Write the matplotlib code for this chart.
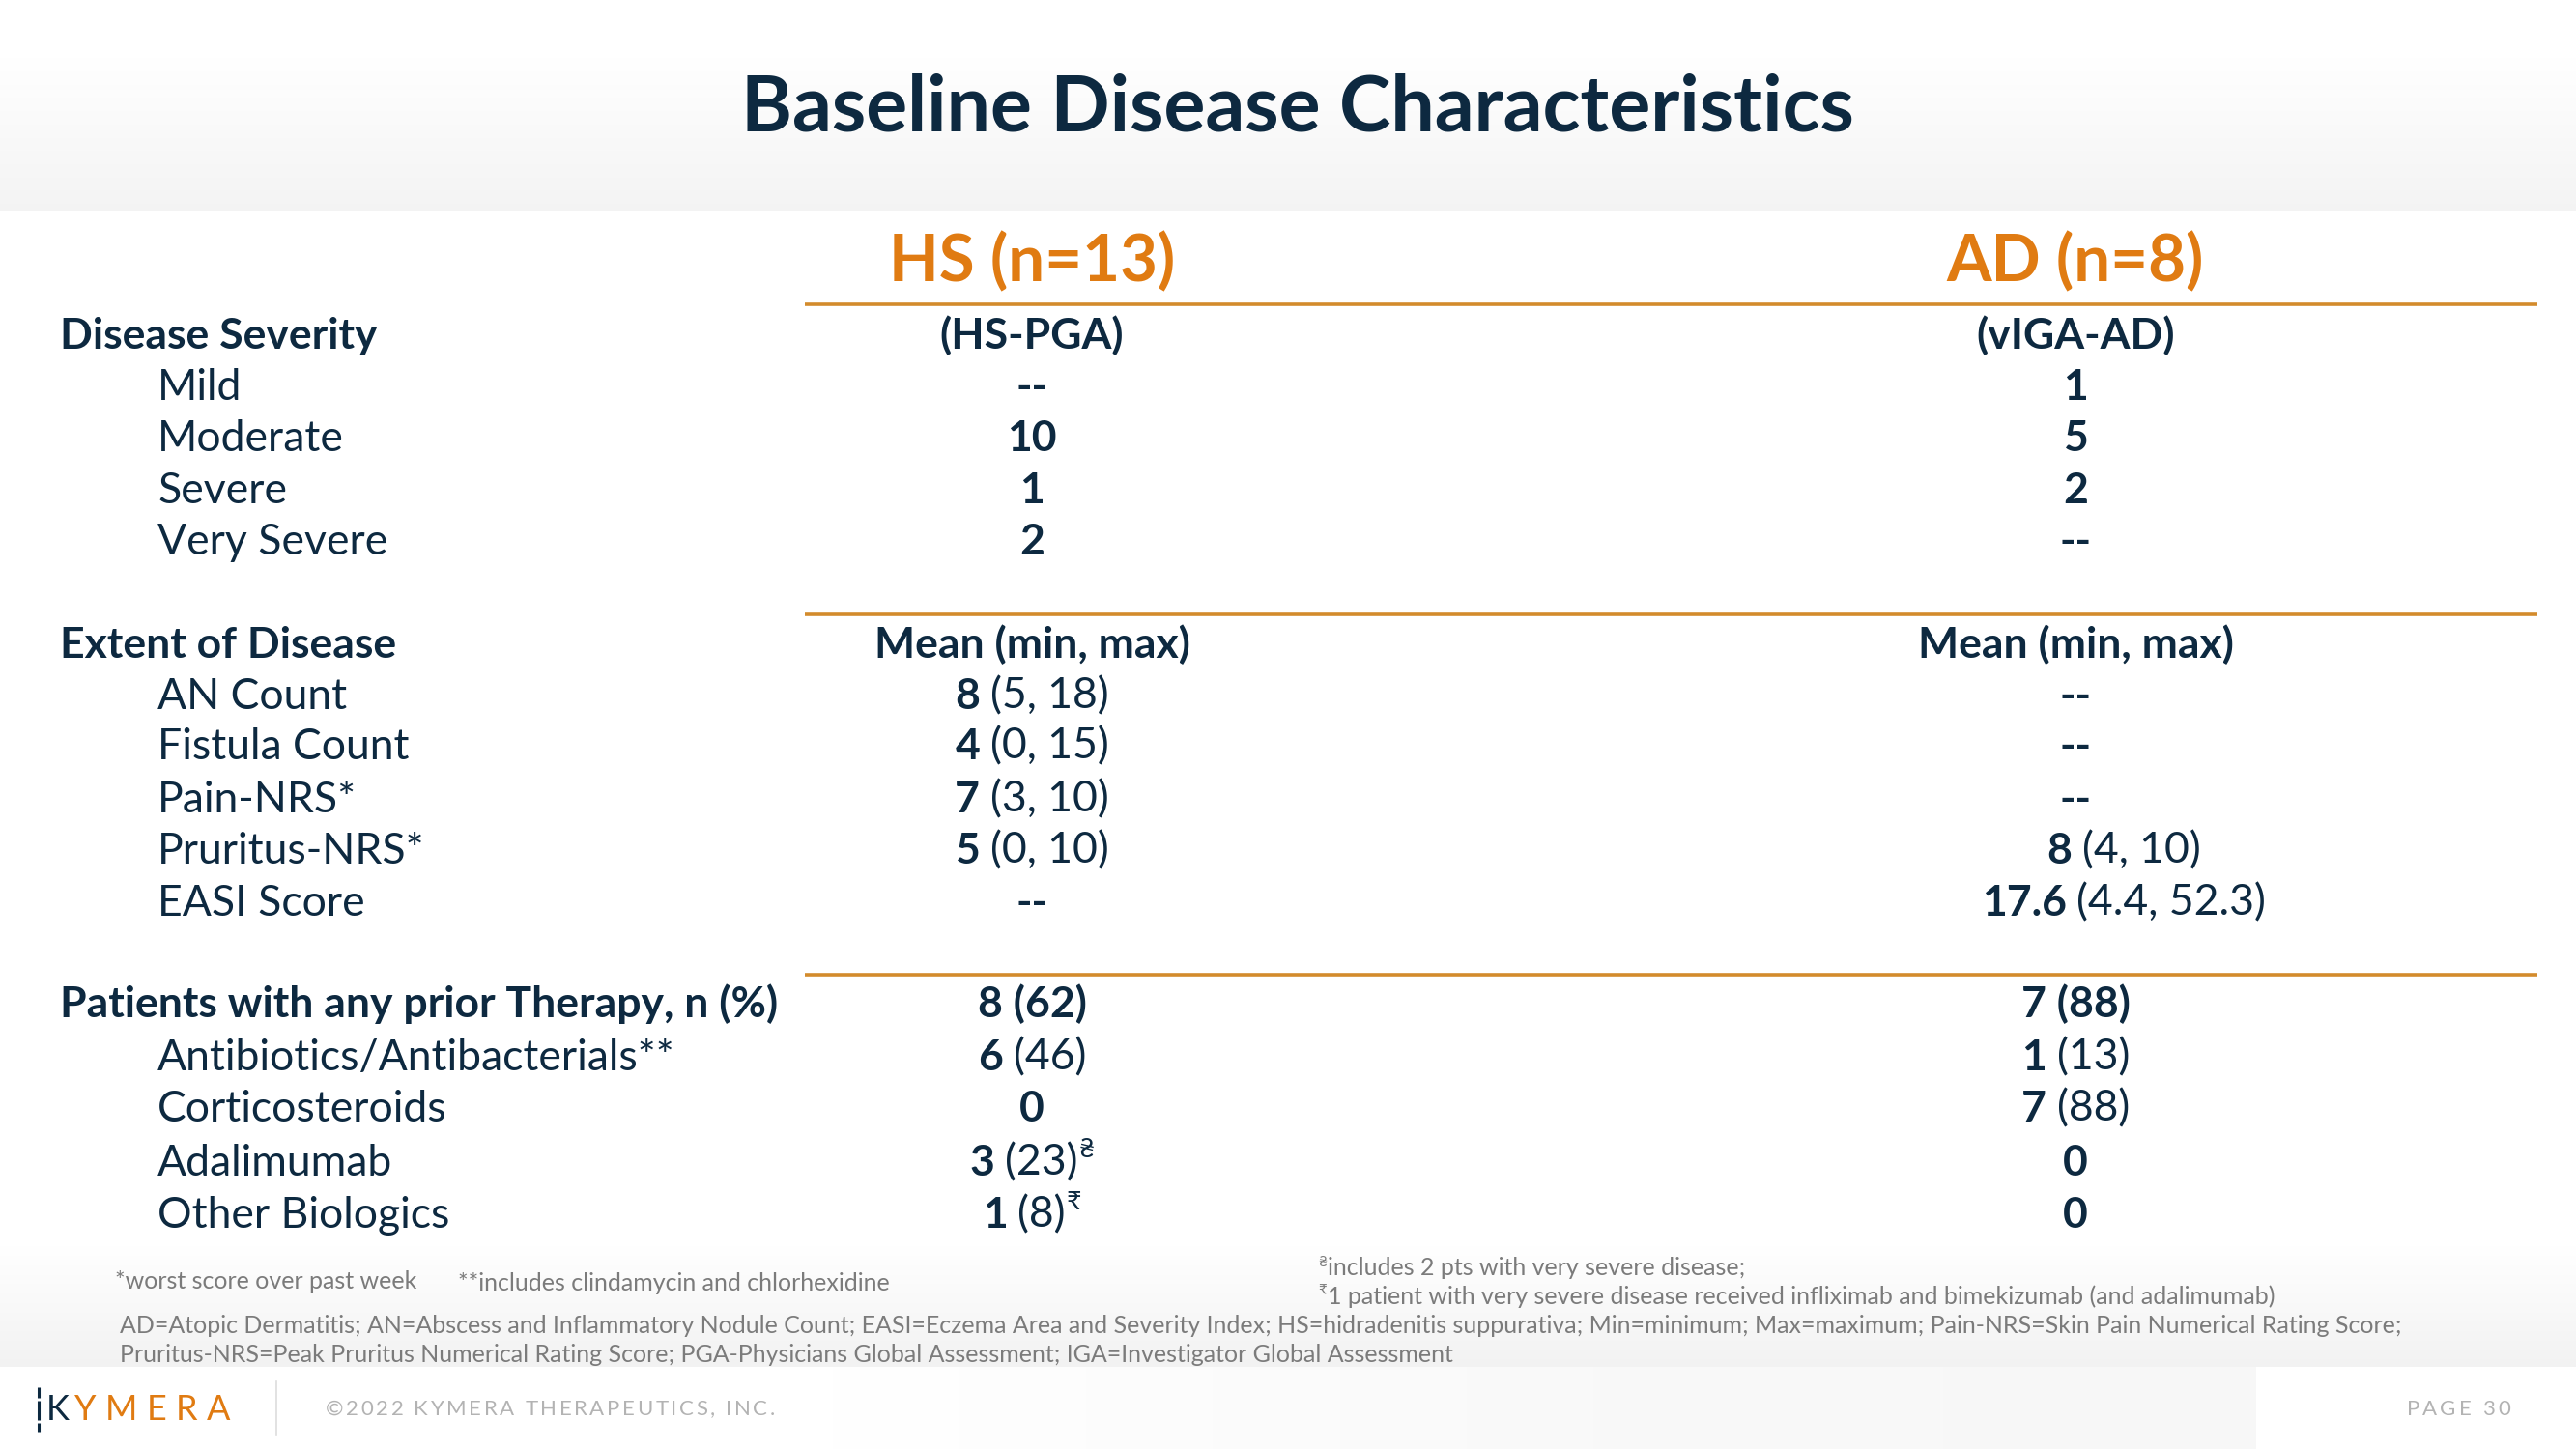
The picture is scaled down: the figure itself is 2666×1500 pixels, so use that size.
import matplotlib
matplotlib.use('Agg')
import matplotlib.pyplot as plt
import numpy as np

# ---------------- data ----------------
title = "Baseline Disease Characteristics"
group_labels = ["HS (n=13)", "AD (n=8)"]
section_titles = ["Disease Severity", "Extent of Disease",
                  "Patients with any prior Therapy, n (%)"]
section_hs = ["(HS-PGA)", "Mean (min, max)", "8 (62)"]
section_ad = ["(vIGA-AD)", "Mean (min, max)", "7 (88)"]

severity_rows = ["Mild", "Moderate", "Severe", "Very Severe"]
severity_hs = ["--", "10", "1", "2"]
severity_ad = ["1", "5", "2", "--"]

extent_rows = ["AN Count", "Fistula Count", "Pain-NRS*", "Pruritus-NRS*", "EASI Score"]
extent_hs_mean = ["8", "4", "7", "5", "--"]
extent_hs_range = ["(5, 18)", "(0, 15)", "(3, 10)", "(0, 10)", ""]
extent_ad_mean = ["--", "--", "--", "8", "17.6"]
extent_ad_range = ["", "", "", "(4, 10)", "(4.4, 52.3)"]

therapy_rows = ["Antibiotics/Antibacterials**", "Corticosteroids", "Adalimumab", "Other Biologics"]
therapy_hs_n = ["6", "0", "3", "1"]
therapy_hs_pct = ["(46)", "", "(23)", "(8)"]
therapy_hs_mark = ["", "", "\u20b4", "\u20b9"]
therapy_ad_n = ["1", "7", "0", "0"]
therapy_ad_pct = ["(13)", "(88)", "", ""]

footnote_a = "*worst score over past week"
footnote_b = "**includes clindamycin and chlorhexidine"
footnote_c = ("\u20b4", "includes 2 pts with very severe disease;")
footnote_d = ("\u20b9", "1 patient with very severe disease received infliximab and bimekizumab (and adalimumab)")
abbrev_1 = ("AD=Atopic Dermatitis; AN=Abscess and Inflammatory Nodule Count; EASI=Eczema Area and Severity Index; "
            "HS=hidradenitis suppurativa; Min=minimum; Max=maximum; Pain-NRS=Skin Pain Numerical Rating Score;")
abbrev_2 = "Pruritus-NRS=Peak Pruritus Numerical Rating Score; PGA-Physicians Global Assessment; IGA=Investigator Global Assessment"
footer_company = "\u00a92022 KYMERA THERAPEUTICS, INC."
footer_page = "PAGE 30"

# ---------------- style ----------------
W, H = 2666, 1500
NAVY = "#0d2940"
ORANGE = "#e07b12"
LINE = "#d38b2c"
GREY = "#7b7b7b"
LIGHT = "#b3b3b3"
FONT = ["Lato", "DejaVu Sans"]
BODY = 32.0
PX = 100 / 72.0

plt.rcParams['font.family'] = FONT
fig = plt.figure(figsize=(W / 100, H / 100), dpi=100)
ax = fig.add_axes([0, 0, 1, 1])
renderer = fig.canvas.get_renderer()


def vgrad(x0, x1, y0, y1, top, bottom, n=200):
    g = np.linspace(top, bottom, n)[:, None, None] * np.ones((1, 2, 3))
    ax.imshow(g, extent=[x0, x1, y1, y0], aspect='auto', zorder=0, interpolation='bilinear')


def hgrad(x0, x1, y0, y1, left, right, n=200):
    g = np.linspace(left, right, n)[None, :, None] * np.ones((2, 1, 3))
    ax.imshow(g, extent=[x0, x1, y1, y0], aspect='auto', zorder=0, interpolation='bilinear')


# background bands
vgrad(0, W, 0, 60, 1.0, 1.0, 2)
vgrad(0, W, 60, 218, 1.0, 0.955)
vgrad(0, W, 1290, 1415, 1.0, 0.95)
hgrad(860, 1700, 1415, H, 1.0, 0.975)
hgrad(1700, 2335, 1415, H, 0.975, 0.97)
ax.set_xlim(0, W)
ax.set_ylim(H, 0)
ax.axis('off')


def width(t):
    return t.get_window_extent(renderer).width


def cap(size):
    return 0.7165 * size * PX


def composite(xc, yc, parts, size=BODY, ha='center'):
    """parts: list of (text, weight, scale, raise_frac)"""
    base = yc + cap(size) / 2
    objs = []
    for s, wgt, sc, rz in parts:
        if not s:
            continue
        t = ax.text(0, base - rz * size * PX, s, fontsize=size * sc, fontweight=wgt,
                    color=NAVY, va='baseline', ha='left', zorder=3)
        objs.append(t)
    gap = 0.24 * size * PX
    widths = [width(t) for t in objs]
    gaps = []
    for i in range(len(objs) - 1):
        gaps.append(gap if objs[i + 1].get_text().startswith('(') else 1.0)
    total = sum(widths) + sum(gaps)
    x = xc - total / 2 if ha == 'center' else xc
    for i, t in enumerate(objs):
        t.set_x(x)
        x += widths[i] + (gaps[i] if i < len(gaps) else 0)


def spaced(x, y, s, size, color, track, ha='left', weight='normal'):
    objs = []
    for ch in s:
        objs.append(ax.text(0, y, ch, fontsize=size, color=color, va='center',
                            ha='left', fontweight=weight, zorder=3))
    ws = []
    for t in objs:
        w = width(t)
        if t.get_text() == ' ':
            w = 0.26 * size * PX
        ws.append(w)
    total = sum(ws) + track * (len(objs) - 1)
    cx = x - total if ha == 'right' else x
    for t, w in zip(objs, ws):
        t.set_x(cx)
        cx += w + track


# ---------------- title ----------------
ax.text(W / 2 + 10, 113, title, fontsize=58, fontweight='bold', color=NAVY,
        ha='center', va='center', zorder=3)

# ---------------- headers ----------------
col_x = [1068, 2148]
for cx, lab in zip(col_x, group_labels):
    ax.text(cx, 267 + cap(48.3) / 2, lab, fontsize=48.3, fontweight='bold', color=ORANGE,
            ha='center', va='baseline', zorder=3)

for ly in [315, 636, 1009]:
    ax.plot([833, 2626], [ly, ly], color=LINE, lw=2.6, solid_capstyle='butt', zorder=2)

label_x0 = 62
label_x1 = 163

sec_y = [345, 665, 1037]
sev_y = [398, 451, 505, 558]
ext_y = [718, 770, 825, 878, 932]
thr_y = [1092, 1145, 1201, 1255]

for i, (st, hs, ad) in enumerate(zip(section_titles, section_hs, section_ad)):
    composite(label_x0, sec_y[i], [(st, 'bold', 1, 0)], ha='left')
    composite(col_x[0], sec_y[i], [(hs, 'bold', 1, 0)])
    composite(col_x[1], sec_y[i], [(ad, 'bold', 1, 0)])

for y, lab, hs, ad in zip(sev_y, severity_rows, severity_hs, severity_ad):
    composite(label_x1, y, [(lab, 'normal', 1, 0)], ha='left')
    composite(col_x[0], y, [(hs, 'bold', 1, 0)])
    composite(col_x[1], y, [(ad, 'bold', 1, 0)])

ad_shift = [0, 0, 0, 50, 50]
for i, y in enumerate(ext_y):
    composite(label_x1, y, [(extent_rows[i], 'normal', 1, 0)], ha='left')
    composite(col_x[0], y, [(extent_hs_mean[i], 'bold', 1, 0), (extent_hs_range[i], 'normal', 1, 0)])
    composite(col_x[1] + ad_shift[i], y, [(extent_ad_mean[i], 'bold', 1, 0),
                                          (extent_ad_range[i], 'normal', 1, 0)])

for i, y in enumerate(thr_y):
    composite(label_x1, y, [(therapy_rows[i], 'normal', 1, 0)], ha='left')
    composite(col_x[0], y, [(therapy_hs_n[i], 'bold', 1, 0), (therapy_hs_pct[i], 'normal', 1, 0),
                            (therapy_hs_mark[i], 'normal', 0.6, 0.42)])
    composite(col_x[1], y, [(therapy_ad_n[i], 'bold', 1, 0), (therapy_ad_pct[i], 'normal', 1, 0)])

# ---------------- footnotes ----------------
FN = 18
ax.text(119, 1326, footnote_a, fontsize=FN, color=GREY, va='center', ha='left', zorder=3)
ax.text(474, 1328, footnote_b, fontsize=FN, color=GREY, va='center', ha='left', zorder=3)
for (mark, txt), y in zip([footnote_c, footnote_d], [1313, 1342]):
    t0 = ax.text(1364, y - 6, mark, fontsize=FN * 0.6, color=GREY, va='center', ha='left', zorder=3)
    ax.text(1364 + width(t0) + 1, y, txt, fontsize=FN, color=GREY, va='center', ha='left', zorder=3)
ax.text(124, 1372, abbrev_1, fontsize=FN, color=GREY, va='center', ha='left', zorder=3)
ax.text(124, 1403, abbrev_2, fontsize=FN, color=GREY, va='center', ha='left', zorder=3)

# ---------------- footer ----------------
for y0, y1 in [(1436, 1447), (1450, 1470), (1473, 1482)]:
    ax.plot([40, 40], [y0, y1], color=NAVY, lw=2.2, solid_capstyle='butt', zorder=3)
spaced(48, 1459, "K", 26, NAVY, 0)
spaced(77, 1459, "YMERA", 26, ORANGE, 9.5)
ax.plot([286, 286], [1430, 1486], color="#dddddd", lw=1.2, zorder=3)
spaced(337, 1459, footer_company, 16, LIGHT, 2.6)
spaced(2598, 1459, footer_page, 16, LIGHT, 3.0, ha='right')

fig.savefig("out.png", dpi=100)
